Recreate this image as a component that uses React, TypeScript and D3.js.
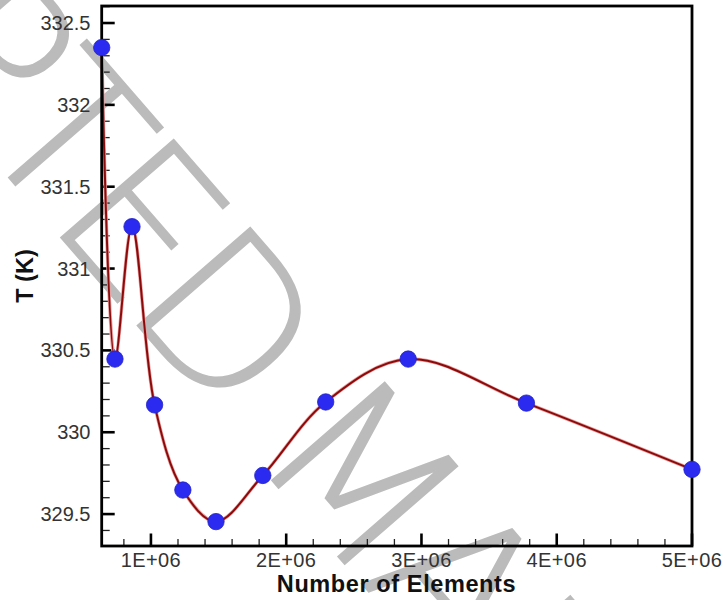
import React from 'react';
import * as d3 from 'd3';

// Data
const elements = [636000, 734000, 860000, 1027000, 1236000, 1481000, 1827000, 2292000, 2902000, 3776000, 5000000];
const temperature = [332.35, 330.447, 331.256, 330.167, 329.647, 329.454, 329.736, 330.185, 330.447, 330.178, 329.773];

const xTickValues = [1e6, 2e6, 3e6, 4e6, 5e6];
const xTickLabels = ['1E+06', '2E+06', '3E+06', '4E+06', '5E+06'];
const yTickValues = [329.5, 330, 330.5, 331, 331.5, 332, 332.5];
const yTickLabels = ['329.5', '330', '330.5', '331', '331.5', '332', '332.5'];
const xDomain = [636000, 5000000];
const yDomain = [329.305, 332.604];

const xTitle = 'Number of Elements';
const yTitle = 'T (K)';
const watermark = 'ACCEPTED MANUSCRIPT';

const W = 725;
const H = 600;
const M = { left: 101.7, right: 33, top: 6, bottom: 54 };

export default function App() {
  const x = d3.scaleLinear().domain(xDomain).range([M.left, W - M.right]);
  const y = d3.scaleLinear().domain(yDomain).range([H - M.bottom, M.top]);

  const pts = elements.map((e, i) => [e, temperature[i]] as [number, number]);
  const line = d3
    .line<[number, number]>()
    .x((d) => x(d[0]))
    .y((d) => y(d[1]))
    .curve(d3.curveCatmullRom.alpha(0.5));

  const xMinor = d3
    .range(0.8e6, 5e6, 0.2e6)
    .filter((v) => Math.abs(v / 1e6 - Math.round(v / 1e6)) > 1e-6 && v >= xDomain[0]);
  const yMinor = d3
    .range(329.4, 332.65, 0.1)
    .filter((v) => Math.abs(v * 2 - Math.round(v * 2)) > 1e-6 && v >= yDomain[0] && v <= yDomain[1]);

  const x0 = x.range()[0];
  const x1 = x.range()[1];
  const y0 = y.range()[0];
  const y1 = y.range()[1];

  const wmX = -430;
  const wmY = -327;

  return (
    <svg
      width={W}
      height={H}
      style={{ position: 'absolute', left: 0, top: 0, background: '#fff' }}
      fontFamily="Liberation Sans, Arial, sans-serif"
    >
      <rect x={0} y={0} width={W} height={H} fill="#fff" />
      {/* watermark */}
      <text
        x={wmX}
        y={wmY}
        transform={`rotate(49 ${wmX} ${wmY})`}
        fontFamily="DejaVu Sans"
        fontWeight={200}
        fontSize={205}
        letterSpacing={-13}
        fill="#bbbbbb"
        stroke="#bbbbbb"
        strokeWidth={1.5}
      >
        {watermark}
      </text>

      {/* y ticks */}
      {yTickValues.map((v) => (
        <line key={'ym' + v} x1={x0} x2={x0 + 13} y1={y(v)} y2={y(v)} stroke="#000" strokeWidth={2.6} />
      ))}
      {yMinor.map((v) => (
        <line key={'yn' + v} x1={x0} x2={x0 + 8} y1={y(v)} y2={y(v)} stroke="#222" strokeWidth={1.3} />
      ))}
      {yTickValues.map((v, i) => (
        <text key={'yl' + v} x={90.5} y={y(v) + 7} textAnchor="end" fontSize={20} fill="#333">
          {yTickLabels[i]}
        </text>
      ))}

      {/* x ticks */}
      {xTickValues.map((v) => (
        <line key={'xm' + v} x1={x(v)} x2={x(v)} y1={y0} y2={y0 - 12.5} stroke="#000" strokeWidth={2.6} />
      ))}
      {xMinor.map((v) => (
        <line key={'xn' + v} x1={x(v)} x2={x(v)} y1={y0} y2={y0 - 7} stroke="#222" strokeWidth={1.3} />
      ))}
      {xTickValues.map((v, i) => (
        <text key={'xl' + v} x={x(v)} y={567} textAnchor="middle" fontSize={20} letterSpacing={0.4} fill="#333">
          {xTickLabels[i]}
        </text>
      ))}

      {/* curve */}
      <path d={line(pts) || ''} fill="none" stroke="#e8a0a0" strokeWidth={3.4} strokeLinejoin="round" />
      <path d={line(pts) || ''} fill="none" stroke="#8c0a0a" strokeWidth={2} strokeLinejoin="round" />

      {/* frame */}
      <rect
        x={x0}
        y={y1}
        width={x1 - x0}
        height={y0 - y1}
        fill="none"
        stroke="#000"
        strokeWidth={2.8}
      />

      {/* markers */}
      {pts.map((d, i) => (
        <circle key={'p' + i} cx={x(d[0])} cy={y(d[1])} r={8.2} fill="#2a2af0" stroke="#2323c8" strokeWidth={0.8} />
      ))}

      {/* titles */}
      <text x={396.5} y={591.5} textAnchor="middle" fontSize={23.5} letterSpacing={0.6} fontWeight="bold" fill="#111">
        {xTitle}
      </text>
      <text
        x={33}
        y={(y0 + y1) / 2}
        transform={`rotate(-90 33 ${(y0 + y1) / 2})`}
        textAnchor="middle"
        fontSize={23.5}
        fontWeight="bold"
        fill="#111"
      >
        {yTitle}
      </text>
    </svg>
  );
}
